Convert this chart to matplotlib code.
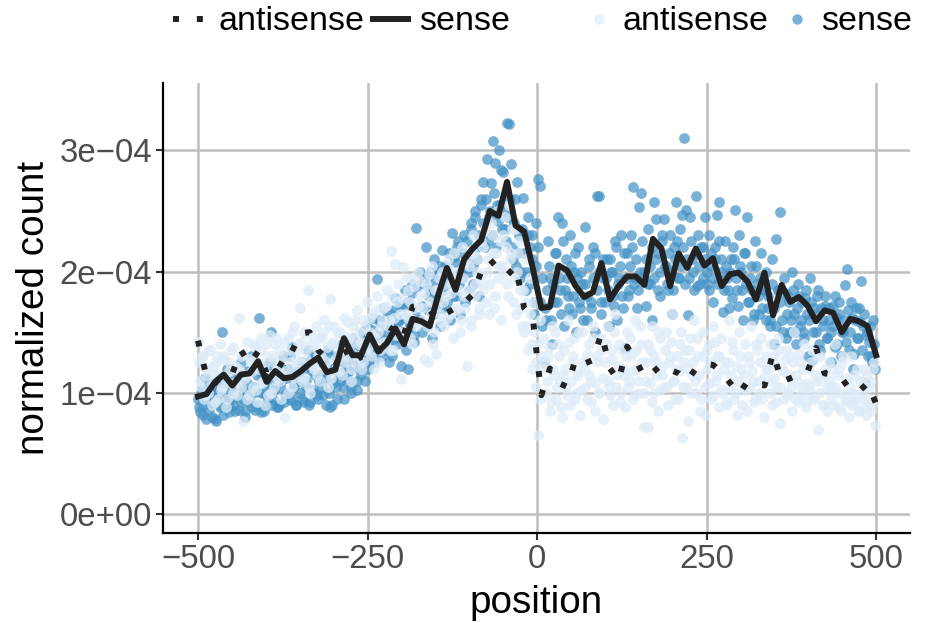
import numpy as np
import matplotlib
matplotlib.use("Agg")
import matplotlib.pyplot as plt
from matplotlib.lines import Line2D

plt.rcParams['font.family'] = ['Liberation Sans', 'DejaVu Sans']

UNIT = 1e-4
# scatter positions and values in units of 1e-4
point_pos = list(range(-500, 500, 3))
point_pos_b = list(range(-499, 500, 3))
sense_pts = [
 .95,.84,1.05,.9,.78,1.1,.92,.8,1.02,.77,
 1.0,.88,1.5,.95,1.12,.84,1.05,.9,1.18,.98,
 .86,1.25,.95,.8,1.08,.92,1.3,1.0,.86,1.15,
 1.62,.84,1.0,.9,1.22,1.05,1.5,.95,1.12,.88,
 .9,1.1,1.3,.98,1.2,.94,1.38,1.05,.9,1.15,
 1.0,1.25,.92,1.1,1.35,.92,1.18,1.0,1.3,.95,
 1.15,1.05,1.25,.9,1.35,.88,.9,1.2,1.05,1.3,
 1.1,1.4,.95,1.25,1.18,1.05,1.45,1.3,1.02,1.2,
 1.35,1.5,1.1,1.55,1.25,1.42,1.62,1.3,1.94,1.6,
 1.45,1.7,1.35,1.55,1.25,1.65,1.5,1.78,1.4,1.6,
 1.22,1.72,1.85,1.2,1.55,1.9,1.42,2.36,1.6,2.0,
 1.5,1.95,2.2,1.68,1.85,1.45,2.1,1.75,2.0,1.55,
 2.18,1.7,1.9,2.0,1.6,2.32,2.12,1.8,2.25,1.65,
 1.95,2.3,2.1,1.85,2.4,2.05,2.5,2.2,1.8,2.6,
 2.74,2.2,2.93,2.45,2.73,3.08,2.9,2.55,3.0,2.84,
 2.82,2.35,3.23,3.22,2.89,2.1,2.6,2.74,2.3,2.0,
 2.61,1.85,2.45,2.2,2.3,1.75,2.05,2.76,2.71,1.55,
 1.25,1.6,2.25,1.95,1.4,1.75,2.15,2.45,1.85,2.4,
 1.55,2.1,1.8,2.3,1.65,2.0,1.5,2.2,1.7,1.9,
 2.37,1.6,2.05,1.75,2.2,1.5,2.62,2.62,1.65,1.95,
 1.75,2.1,1.55,2.0,1.8,2.25,1.6,1.95,2.3,1.7,
 1.37,2.15,1.85,2.3,2.70,1.95,1.7,2.53,2.65,2.0,
 1.72,2.35,1.9,1.6,2.57,2.43,2.15,1.8,2.3,2.43,
 2.05,1.85,2.3,1.65,2.2,2.57,1.95,2.35,2.47,3.10,
 2.51,1.64,2.45,2.1,1.85,2.62,2.3,1.9,2.2,2.45,
 1.9,2.3,2.05,1.75,2.2,2.47,2.57,2.1,1.67,2.25,
 1.95,1.7,2.1,2.2,2.51,1.85,2.3,2.0,1.6,2.15,
 2.45,1.75,2.05,1.6,2.25,1.9,1.65,2.15,1.85,2.0,
 1.7,1.55,2.1,1.4,2.27,1.85,2.49,1.6,1.95,1.45,
 1.8,1.5,2.0,1.65,1.4,1.9,1.55,1.75,1.45,1.85,
 1.3,1.95,1.27,1.7,1.5,1.85,1.35,1.6,1.8,1.45,
 1.7,1.25,1.55,1.8,1.4,1.65,1.3,1.5,1.89,2.02,
 1.35,1.75,1.2,1.6,1.45,1.7,1.92,1.55,1.08,1.5,
 1.42,1.3,1.6,1.2]
sense_pts_b = [
 .88,1.0,.82,1.12,.94,.86,1.0,.92,.78,1.06,
 .9,1.08,.82,.98,1.2,.88,.95,1.1,.85,1.02,
 1.1,.92,1.02,.85,1.18,.95,.88,1.05,1.22,.9,
 1.0,1.15,.85,1.08,.95,1.25,.9,1.02,1.12,.88,
 1.05,1.2,.92,1.12,1.0,1.3,.95,1.08,.9,1.18,
 1.1,.95,1.2,1.05,.9,1.28,1.02,1.15,.98,1.1,
 1.25,.98,1.12,1.32,1.0,1.2,1.08,1.3,.95,1.15,
 1.2,1.05,1.3,1.12,1.35,1.0,1.22,1.4,1.1,1.28,
 1.15,1.3,1.45,1.2,1.38,1.52,1.25,1.48,1.35,1.58,
 1.3,1.5,1.62,1.4,1.55,1.3,1.68,1.45,1.58,1.72,
 1.5,1.62,1.35,1.75,1.55,1.82,1.48,1.68,1.88,1.6,
 1.72,1.9,1.55,1.8,2.0,1.65,1.92,1.78,2.05,1.7,
 1.85,2.05,1.75,2.15,1.95,1.8,2.08,2.2,1.9,2.0,
 2.15,1.75,2.25,2.0,2.35,1.9,2.45,2.1,2.3,2.55,
 2.4,2.6,2.25,2.5,2.3,2.65,2.2,2.42,2.55,2.35,
 2.5,2.25,2.45,2.6,2.2,2.4,2.05,2.15,1.95,2.35,
 2.15,2.0,2.3,1.9,2.1,1.65,2.4,2.2,1.75,1.95,
 1.7,1.85,2.05,1.6,1.9,2.15,1.75,1.95,1.65,2.25,
 1.85,1.95,1.7,2.05,1.8,2.15,1.95,1.75,2.0,1.6,
 1.9,1.8,2.1,1.7,1.95,2.15,1.85,2.0,1.75,2.1,
 1.95,1.85,2.1,2.0,1.72,2.2,1.9,2.05,1.8,2.15,
 1.95,1.8,2.05,2.2,1.9,2.1,1.85,2.0,2.25,1.95,
 2.1,1.9,2.05,2.2,1.95,2.1,1.85,2.0,2.25,2.05,
 1.9,2.15,2.0,1.85,2.1,2.25,1.95,2.05,2.2,1.9,
 2.1,1.95,2.25,2.0,2.15,1.88,2.05,2.2,1.95,2.1,
 2.0,1.85,2.15,1.95,2.1,1.9,2.25,2.0,1.85,2.05,
 1.85,2.0,1.78,2.1,1.95,1.72,2.05,1.85,2.15,1.9,
 1.75,1.95,1.85,1.65,2.05,1.8,1.95,1.7,1.85,1.6,
 1.8,1.6,1.9,1.7,1.55,1.85,1.75,1.5,1.82,1.65,
 1.75,1.6,1.85,1.5,1.7,1.8,1.6,1.5,1.78,1.65,
 1.6,1.75,1.5,1.65,1.8,1.4,1.7,1.55,1.72,1.45,
 1.6,1.5,1.72,1.38,1.62,1.75,1.5,1.6,1.42,1.68,
 1.5,1.62,1.32,1.7,1.45,1.58,1.35,1.65,1.48,1.3,
 1.55,1.25,1.4]
antisense_pts = [
 1.42,1.1,1.3,.95,1.2,1.0,1.35,.9,1.15,1.25,
 .95,1.4,1.05,1.28,.88,1.18,1.35,1.0,1.22,1.08,
 1.62,1.3,.77,1.15,1.42,.98,1.25,1.05,1.38,.92,
 1.2,1.45,1.1,.9,1.3,1.48,1.0,1.25,1.4,1.12,
 1.35,.95,1.15,.80,1.45,1.25,1.05,1.55,1.2,1.35,
 1.70,1.1,1.5,1.28,1.85,1.0,1.4,1.2,1.55,1.3,
 1.1,1.45,1.6,1.25,1.05,1.77,1.4,1.55,1.2,1.35,
 1.5,1.15,1.62,1.3,1.45,1.1,1.55,1.25,1.68,1.4,
 1.2,1.6,1.35,1.75,1.5,1.3,1.65,1.45,1.8,1.25,
 1.55,1.7,1.4,1.85,1.6,2.17,1.35,2.06,1.75,1.5,
 1.11,2.04,1.65,1.85,1.45,1.95,1.7,1.55,2.0,1.8,
 1.6,1.28,1.9,1.25,1.75,2.05,1.5,1.32,1.85,1.65,
 2.0,1.55,1.8,2.1,1.65,1.9,2.15,1.7,1.95,1.5,
 2.2,1.8,1.22,2.05,1.6,2.3,1.9,2.1,1.7,2.25,
 1.85,2.35,2.0,1.65,2.4,2.15,1.8,2.5,2.05,1.6,
 2.3,2.45,1.9,2.55,2.15,1.75,2.35,2.0,2.25,1.7,
 1.85,2.1,1.55,1.95,1.4,1.75,1.25,.65,1.6,1.2,
 1.45,1.0,1.3,.85,1.55,1.15,.95,1.4,1.1,.8,
 1.35,1.05,1.6,.9,1.25,1.45,1.0,1.15,.82,1.5,
 1.2,.95,1.4,1.1,1.55,.85,1.3,1.0,1.45,.78,
 1.25,1.55,1.05,1.35,.9,1.65,1.15,1.4,1.0,1.2,
 .88,1.5,1.1,1.3,.95,1.6,1.2,1.0,1.4,.72,
 1.1,.72,1.35,1.55,1.0,1.25,.85,1.45,1.15,1.05,
 1.5,.9,1.3,1.65,1.1,1.2,.95,1.4,.63,1.25,
 1.05,.77,1.45,1.15,1.6,1.0,1.3,.85,1.5,.82,
 1.2,1.4,.95,1.55,1.1,1.3,.88,1.45,1.0,1.25,
 .9,1.6,1.15,1.35,1.0,.82,1.5,1.2,1.05,1.4,
 .85,1.25,1.55,1.1,.95,1.35,1.0,1.45,.8,1.2,
 1.1,1.4,.9,1.3,1.05,1.45,.75,1.2,.95,1.35,
 1.0,1.3,.85,1.5,1.15,.92,1.25,1.05,1.4,.88,
 1.2,1.0,1.35,.95,1.1,.69,1.3,.9,1.15,.85,
 1.25,1.05,.9,1.4,1.0,1.2,.85,1.3,.95,1.1,
 .8,1.3,1.0,.92,1.2,.85,1.1,.95,.88,1.15,
 1.05,.85,1.2,.73]
antisense_pts_b = [
 1.25,1.05,1.3,.98,1.15,1.35,1.08,1.22,.92,1.3,
 1.15,1.02,1.3,1.12,.95,1.25,1.08,1.38,1.2,.98,
 1.2,1.05,1.32,1.12,.95,1.28,1.18,1.4,1.02,1.25,
 1.35,1.08,1.22,1.4,.98,1.15,1.3,1.05,1.45,1.2,
 1.1,1.3,1.42,1.18,1.0,1.35,1.5,1.12,1.28,1.4,
 1.25,1.42,1.12,1.35,1.05,1.48,1.22,1.38,1.15,1.45,
 1.3,1.5,1.2,1.38,1.55,1.12,1.42,1.28,1.5,1.18,
 1.35,1.48,1.25,1.58,1.38,1.2,1.45,1.6,1.3,1.5,
 1.42,1.25,1.55,1.38,1.62,1.48,1.2,1.68,1.5,1.35,
 1.6,1.42,1.72,1.55,1.35,1.8,1.62,1.48,1.9,1.65,
 1.78,1.5,1.95,1.62,1.75,1.4,1.88,1.58,1.72,1.92,
 1.7,1.82,1.55,1.98,1.65,1.4,1.85,1.72,1.95,1.58,
 1.75,1.9,1.62,2.02,1.82,1.45,1.98,1.68,1.85,1.6,
 1.95,1.7,2.1,1.85,1.55,2.15,1.8,2.0,1.65,1.92,
 2.2,1.75,2.1,1.9,2.3,1.7,2.15,1.95,2.25,2.05,
 2.0,2.2,1.8,2.1,2.35,1.95,1.65,2.15,1.85,1.55,
 1.5,1.75,1.35,1.65,1.2,1.5,1.05,1.4,.95,1.3,
 1.25,1.1,1.38,.92,1.2,1.5,1.05,1.3,.88,1.15,
 1.2,.98,1.42,1.1,1.3,.95,1.18,1.5,1.02,1.25,
 1.05,1.32,1.15,.92,1.45,1.08,1.25,1.0,1.35,1.12,
 1.4,1.1,.98,1.28,1.5,1.05,1.22,.92,1.35,1.15,
 1.3,1.05,1.45,1.18,.98,1.35,1.1,1.55,1.25,1.0,
 1.25,1.4,1.08,.92,1.3,1.15,1.5,1.02,1.22,1.35,
 1.05,1.25,1.42,1.1,.95,1.3,1.18,1.5,1.05,1.35,
 1.2,1.35,1.0,1.25,1.1,1.45,1.15,.95,1.3,1.05,
 1.35,1.08,1.25,.98,1.42,1.15,1.3,1.02,1.2,.92,
 1.25,1.05,1.42,.95,1.22,1.1,1.3,.9,1.15,1.02,
 1.3,1.05,1.18,.92,1.4,1.1,1.25,.95,1.12,1.3,
 1.2,1.0,1.25,1.12,.92,1.35,1.05,1.18,1.28,.98,
 1.15,1.05,1.25,.95,1.1,1.32,1.0,1.2,.92,1.08,
 1.05,1.25,.95,1.15,1.3,1.0,1.1,.9,1.2,1.02,
 1.1,.95,1.2,1.05,1.15,.88,1.25,1.0,1.12,.92,
 1.05,.9,1.15,.98,.85,1.1,1.0,1.2,.82,.95,
 1.1,.9,1.25]

# smoothed lines: 80 positions across the window
line_pos = np.linspace(-500, 500, 80)
sense_line = [
 .97,.99,1.09,1.15,1.06,1.15,1.16,1.26,1.09,1.18,
 1.12,1.13,1.18,1.24,1.29,1.17,1.19,1.45,1.31,1.31,
 1.48,1.34,1.41,1.53,1.40,1.61,1.59,1.55,1.81,2.03,
 1.85,2.10,2.19,2.26,2.50,2.46,2.74,2.38,2.33,2.03,
 1.70,1.71,2.05,2.01,1.88,1.79,1.83,2.07,1.77,1.88,
 1.96,1.96,1.89,2.27,2.19,1.88,2.15,2.03,2.19,2.05,
 2.11,1.88,1.98,1.99,1.92,1.77,1.99,1.64,1.89,1.75,
 1.79,1.72,1.59,1.68,1.66,1.50,1.61,1.59,1.55,1.31]
antisense_line = [
 1.43,1.13,1.08,1.17,1.16,1.35,1.24,1.34,1.16,1.26,
 1.22,1.35,1.49,1.50,1.35,1.28,1.22,1.38,1.24,1.30,
 1.28,1.33,1.46,1.57,1.48,1.71,1.72,1.68,1.60,1.66,
 1.70,1.74,1.81,2.00,2.10,2.02,1.97,2.04,1.70,1.62,
 .98,1.20,1.08,1.05,1.28,1.24,1.27,1.49,1.20,1.10,
 1.38,1.27,1.13,1.17,1.23,1.19,1.16,1.10,1.20,1.24,
 1.23,1.17,1.08,.99,1.09,1.08,1.06,1.33,1.09,1.12,
 1.15,1.17,1.37,1.16,1.15,1.12,1.02,1.01,1.08,.91]

x_ticks = [-500, -250, 0, 250, 500]
y_ticks = [0, 1, 2, 3]
y_labels = ['0e+00', '1e\u221204', '2e\u221204', '3e\u221204']

SENSE_C = '#4292c6'
ANTI_C = '#deebf7'
LINE_C = '#222222'

fig = plt.figure(figsize=(9.41, 6.23), dpi=100)
ax = fig.add_axes([163/941, 1-533/623, (910-163)/941, (533-83)/623])
ax.set_xlim(-551.6, 550)
ax.set_ylim(-0.157*UNIT, 3.556*UNIT)
ax.set_axisbelow(True)
ax.grid(True, color='#bebebe', lw=1.8)

ax.scatter(point_pos, np.array(sense_pts)*UNIT, s=60, color=SENSE_C, alpha=0.7, lw=0, zorder=2)
ax.scatter(point_pos_b, np.array(sense_pts_b)*UNIT, s=60, color=SENSE_C, alpha=0.7, lw=0, zorder=2)
ax.scatter(point_pos, np.array(antisense_pts)*UNIT, s=60, color=ANTI_C, alpha=0.75, lw=0, zorder=3)
ax.scatter(point_pos_b, np.array(antisense_pts_b)*UNIT, s=60, color=ANTI_C, alpha=0.75, lw=0, zorder=3)
ax.plot(line_pos, np.array(antisense_line)*UNIT, color=LINE_C, lw=4.3, ls=(0, (1, 3)), zorder=4,
        dash_capstyle='butt', dash_joinstyle='round')
ax.plot(line_pos, np.array(sense_line)*UNIT, color=LINE_C, lw=4.3, zorder=5, solid_joinstyle='round')

ax.set_xticks(x_ticks)
ax.set_yticks([v*UNIT for v in y_ticks])
ax.set_yticklabels(y_labels)
ax.tick_params(axis='both', length=5, width=1.5, color='#333333', labelcolor='#4d4d4d', labelsize=23.8, pad=3)
ax.set_xlabel('position', fontsize=27.8, color='black', labelpad=7)
ax.set_ylabel('normalized count', fontsize=27.8, color='black', labelpad=5)
for s in ('top', 'right'):
    ax.spines[s].set_visible(False)
for s in ('left', 'bottom'):
    ax.spines[s].set_linewidth(1.6)
    ax.spines[s].set_color('black')

leg_kw = dict(ncol=2, frameon=False, fontsize=24.5, borderpad=0, borderaxespad=0, handlelength=1.03,
              loc='center left')
h1 = [Line2D([], [], color=LINE_C, lw=4.3, ls=(0, (1, 3)), dash_capstyle='butt'),
      Line2D([], [], color=LINE_C, lw=4.3)]
fig.legend(h1, ['antisense', 'sense'], bbox_to_anchor=(173/941, 1-22/623), handletextpad=.32,
           columnspacing=.24, **leg_kw)
h2 = [Line2D([], [], color=ANTI_C, alpha=0.75, marker='o', ms=7.5, mew=0, ls=''),
      Line2D([], [], color=SENSE_C, alpha=0.7, marker='o', ms=7.5, mew=0, ls='')]
fig.legend(h2, ['antisense', 'sense'], bbox_to_anchor=(581/941, 1-22/623), handletextpad=.2,
           columnspacing=.3, **leg_kw)

fig.savefig('out.png', dpi=100)
